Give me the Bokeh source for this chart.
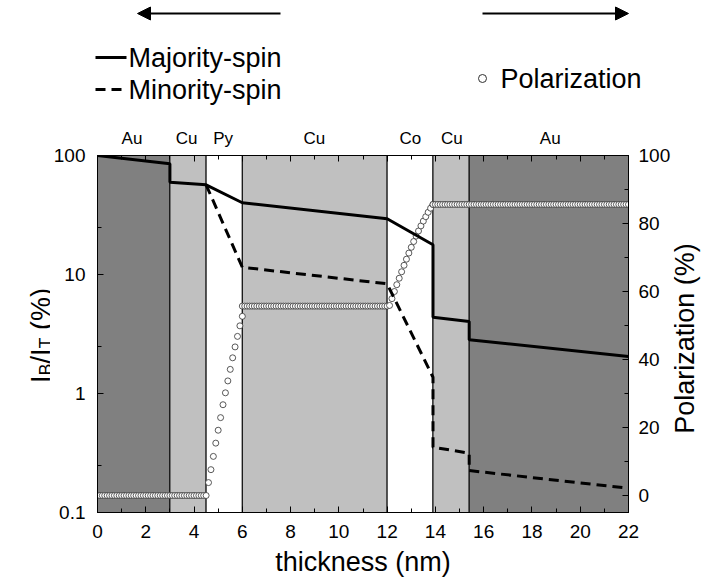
import numpy as np
from bokeh.plotting import figure
from bokeh.models import (Range1d, LinearAxis, LinearScale, FixedTicker, SingleIntervalTicker,
                          Arrow, NormalHead)
from bokeh.layouts import column, row
from bokeh.core.properties import value
from bokeh.embed import file_html
from bokeh.resources import INLINE

FONT = "Liberation Sans"

# ---------------- data ----------------
layer_names = ["Au", "Cu", "Py", "Cu", "Co", "Cu", "Au"]
layer_edges = [0.0, 3.0, 4.5, 6.0, 12.0, 13.9, 15.4, 22.0]
layer_colors = {"Au": "#808080", "Cu": "#c0c0c0", "Py": "#ffffff", "Co": "#ffffff"}

# I_B/I_T (%) majority-spin (solid)
maj_x = [0.0, 3.0, 3.0, 4.5, 6.0, 12.0, 13.9, 13.9, 15.4, 15.4, 22.0]
maj_y = [100.0, 85.2, 59.7, 56.7, 40.1, 29.4, 17.8, 4.38, 4.03, 2.83, 2.05]

# I_B/I_T (%) minority-spin (dashed)
min_x = [4.5, 6.0, 12.0, 13.9, 13.9, 15.4, 15.4, 22.0]
min_y = [56.7, 11.5, 8.35, 1.37, 0.354, 0.315, 0.225, 0.160]

# Polarization (%) - rise in Py
pol_py_x = [4.6, 4.7, 4.8, 4.9, 5.0, 5.1, 5.2, 5.3, 5.4, 5.5, 5.6, 5.7, 5.8, 5.9, 6.0]
pol_py_y = [3.8, 7.6, 11.5, 15.4, 19.2, 22.9, 26.7, 30.2, 33.7, 37.1, 40.5, 43.7, 46.8, 49.9, 52.7]
# Polarization (%) - rise in Co
pol_co_x = [12.1, 12.2, 12.3, 12.4, 12.5, 12.6, 12.7, 12.8, 12.9, 13.0,
            13.1, 13.2, 13.3, 13.4, 13.5, 13.6, 13.7, 13.8, 13.9]
pol_co_y = [55.9, 57.9, 60.0, 62.0, 63.9, 65.8, 67.7, 69.5, 71.3, 73.0,
            74.7, 76.3, 77.8, 79.3, 80.7, 82.0, 83.3, 84.5, 85.6]
# Polarization plateaus (start nm, end nm, value %), sampled every 0.1 nm
pol_plateaus = [(0.0, 4.5, 0.0), (6.0, 12.0, 55.7), (13.9, 22.0, 85.6)]
pol_step = 0.1

x_ticks_interval = 2
left_ticks = [0.1, 1, 10, 100]
left_minor = [0.25, 2.5, 25]
left_tick_labels = {0.1: "0.1", 1: "1", 10: "10", 100: "100"}

legend_labels = ["Majority-spin", "Minority-spin", "Polarization"]


def plateau(a, b, v):
    xs = [float(x) for x in np.round(np.arange(a, b + pol_step / 2, pol_step), 2)]
    return xs, [v] * len(xs)


px1, py1 = plateau(*pol_plateaus[0])
px2, py2 = plateau(*pol_plateaus[1])
px3, py3 = plateau(*pol_plateaus[2])
pol_x = px1 + pol_py_x + px2 + pol_co_x + px3
pol_y = py1 + pol_py_y + py2 + pol_co_y + py3

# ---------------- geometry (page pixels) ----------------
W, H = 703, 587
FR_L, FR_R, FR_T, FR_B = 95.0, 630.0, 155.0, 512.0
TOP_H = 148
LEFT_W = 50
RIGHT_X = 673
KX = (FR_R - FR_L) / 22.0


def px_to_x(px):
    return (px - FR_L) / KX


def blank_fig(width, height, x_range, y_range):
    f = figure(width=width, height=height, x_range=x_range, y_range=y_range,
               output_backend="svg", toolbar_location=None,
               x_axis_location=None, y_axis_location=None, min_border=0)
    f.min_border_left = f.min_border_right = f.min_border_top = f.min_border_bottom = 0
    f.outline_line_color = None
    f.xgrid.visible = False
    f.ygrid.visible = False
    return f


# ---------------- top strip: arrows, legend, layer names (y = -page_y) ----------------
top_fig = blank_fig(W, TOP_H, Range1d(px_to_x(0), px_to_x(W)), Range1d(-TOP_H, 0))
top_fig.add_layout(Arrow(x_start=px_to_x(280), y_start=-13, x_end=px_to_x(137), y_end=-13,
                         line_width=2, line_color="black",
                         end=NormalHead(size=13, fill_color="black", line_color="black")))
top_fig.add_layout(Arrow(x_start=px_to_x(482), y_start=-13, x_end=px_to_x(628), y_end=-13,
                         line_width=2, line_color="black",
                         end=NormalHead(size=13, fill_color="black", line_color="black")))
top_fig.line([px_to_x(95), px_to_x(126)], [-57, -57], line_color="black", line_width=3)
top_fig.line([px_to_x(95), px_to_x(126)], [-89, -89], line_color="black", line_width=3,
             line_dash="10 6")
top_fig.scatter([px_to_x(482)], [-78], marker="circle", size=8, fill_color="white",
                line_color="#303030", line_width=1)
top_fig.text(x=[px_to_x(128), px_to_x(128), px_to_x(500)], y=[-57, -89, -78], text=legend_labels,
             text_font=value(FONT), text_font_size=value("27px"), text_color="black",
             text_align=value("left"), text_baseline=value("middle"))
centers = [(layer_edges[i] + layer_edges[i + 1]) / 2 for i in range(len(layer_names))]
top_fig.text(x=centers, y=[-138] * len(centers), text=layer_names,
             text_font=value(FONT), text_font_size=value("17px"), text_color="black",
             text_align=value("center"), text_baseline=value("middle"))

# ---------------- side strips: their frames align with the main frame ----------------
left_fig = blank_fig(LEFT_W, H - TOP_H, Range1d(0, LEFT_W), Range1d(-FR_B, -FR_T))
X0 = 40.0
# (text, font px, advance in em, gap before in em)
pieces = [("I", 27, 0.278, 0.0), ("B", 18, 0.667, 0.0), ("/I", 27, 0.556, 0.0),
          ("T", 18, 0.611, 0.0), ("(%)", 27, 1.555, 0.278)]
total = sum((w + g) * fs for _, fs, w, g in pieces)
y_cur = 335.0 + total / 2
lx, ly, lt, lfs = [], [], [], []
for txt, fs, w, g in pieces:
    y_cur -= g * fs
    lx.append(X0 + (5 if fs == 18 else 0))
    ly.append(-(y_cur - w * fs / 2))
    lt.append(txt)
    lfs.append(f"{fs}px")
    y_cur -= w * fs
left_fig.text(x=lx, y=ly, text=lt, angle=np.pi / 2, text_font=value(FONT),
              text_font_size=lfs, text_color="black",
              text_align=value("center"), text_baseline=value("alphabetic"))

right_fig = blank_fig(W - RIGHT_X, H - TOP_H, Range1d(RIGHT_X, W), Range1d(-FR_B, -FR_T))
right_fig.text(x=[684], y=[-338], text=["Polarization (%)"], angle=np.pi / 2,
               text_font=value(FONT), text_font_size=value("27px"), text_color="black",
               text_align=value("center"), text_baseline=value("middle"))

# ---------------- main plot ----------------
p = figure(width=RIGHT_X - LEFT_W, height=H - TOP_H, x_range=Range1d(0, 22),
           y_range=Range1d(0.1, 100), y_axis_type="log", output_backend="svg",
           toolbar_location=None)
p.min_border_left = int(FR_L - LEFT_W)
p.min_border_right = int(RIGHT_X - FR_R)
p.min_border_top = int(FR_T - TOP_H)
p.min_border_bottom = int(H - FR_B)
p.extra_y_ranges = {"pol": Range1d(-5, 100)}
p.extra_y_scales = {"pol": LinearScale()}
p.xgrid.visible = False
p.ygrid.visible = False
p.outline_line_color = "black"
p.outline_line_width = 1

p.quad(left=layer_edges[:-1], right=layer_edges[1:], bottom=0.1, top=100,
       fill_color=[layer_colors[n] for n in layer_names], line_color="black", line_width=1)
pol_r = p.scatter(pol_x, pol_y, y_range_name="pol", marker="circle", size=6,
                  fill_color="white", line_color="#303030", line_width=0.8)
maj_r = p.line(maj_x, maj_y, line_color="black", line_width=3)
min_r = p.line(min_x, min_y, line_color="black", line_width=3, line_dash="10 6")


def style_axis(ax):
    ax.axis_line_color = "black"
    ax.major_tick_line_color = "black"
    ax.minor_tick_line_color = "black"
    ax.major_tick_in = 6
    ax.major_tick_out = 0
    ax.minor_tick_in = 4
    ax.minor_tick_out = 0
    ax.major_label_text_font = FONT
    ax.major_label_text_font_size = "19px"
    ax.major_label_text_color = "black"
    ax.axis_label_text_font = FONT
    ax.axis_label_text_font_style = "normal"
    ax.axis_label_text_color = "black"


xa = p.xaxis[0]
xa.ticker = SingleIntervalTicker(interval=x_ticks_interval, num_minor_ticks=2)
style_axis(xa)
xa.major_label_standoff = 12
xa.axis_label = "thickness (nm)"
xa.axis_label_text_font_size = "27px"
xa.axis_label_standoff = 6

ya = p.yaxis[0]
ya.ticker = FixedTicker(ticks=left_ticks, minor_ticks=left_minor)
style_axis(ya)
ya.major_label_overrides = left_tick_labels
ya.major_label_standoff = 12

top = LinearAxis(ticker=SingleIntervalTicker(interval=x_ticks_interval, num_minor_ticks=2))
style_axis(top)
top.major_label_text_font_size = "0px"
top.major_label_text_color = None
top.major_label_standoff = 0
p.add_layout(top, "above")

ra = LinearAxis(y_range_name="pol", ticker=SingleIntervalTicker(interval=20, num_minor_ticks=2))
style_axis(ra)
ra.major_label_standoff = 10
p.add_layout(ra, "right")

layout = column(top_fig, row(left_fig, p, right_fig))
open("out.html", "w").write(file_html(layout, INLINE))
